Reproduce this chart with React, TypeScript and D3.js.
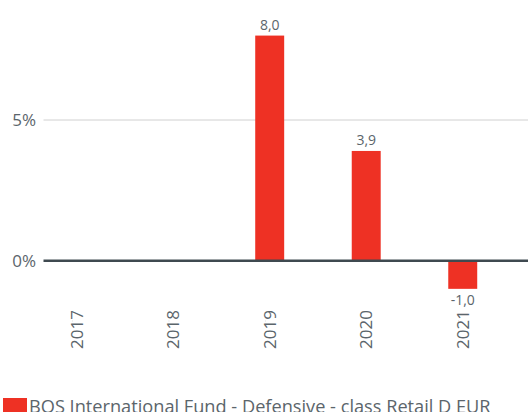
import React from "react";
import * as d3 from "d3";

const years = ["2017", "2018", "2019", "2020", "2021"];
const values: (number | null)[] = [null, null, 8.0, 3.9, -1.0];
const yTicks = [0, 5];
const seriesName = "BOS International Fund - Defensive - class Retail D EUR";

const W = 528;
const H = 412;
const FONT = "'Open Sans', sans-serif";
const TEXT = "#5b656b";
const BAR = "#ee3124";

export default function App() {
  const y = d3.scaleLinear().domain([0, 5]).range([260.7, 120]);
  const x = d3
    .scaleBand<string>()
    .domain(years)
    .range([28.4, 511])
    .paddingInner(0.7)
    .paddingOuter(0.35);
  const step = x.step();
  const fmt = (v: number) => v.toFixed(1).replace(".", ",");

  return (
    <svg
      width={W}
      height={H}
      style={{ position: "absolute", left: 0, top: 0, display: "block" }}
      fontFamily={FONT}
    >
      {yTicks.map((t) => (
        <g key={t}>
          {t !== 0 && (
            <line x1={43.5} x2={W} y1={y(t)} y2={y(t)} stroke="#d0d0d0" strokeWidth={1} />
          )}
          <text x={36} y={y(t)} dy="0.35em" textAnchor="end" fontSize={17} fill={TEXT}>
            {t}%
          </text>
        </g>
      ))}
      {years.map((yr, i) => {
        const v = values[i];
        const bx = x(yr)!;
        const bw = x.bandwidth();
        const cx = bx + bw / 2;
        return (
          <g key={yr}>
            {v !== null && (
              <>
                <rect
                  x={bx}
                  width={bw}
                  y={v >= 0 ? y(v) : y(0)}
                  height={Math.abs(y(v) - y(0))}
                  fill={BAR}
                />
                <text
                  x={cx}
                  y={v >= 0 ? y(v) - 6 : y(v) + 16}
                  textAnchor="middle"
                  fontSize={14}
                  fill={TEXT}
                >
                  {fmt(v)}
                </text>
              </>
            )}
            <rect x={cx + step / 2 - 53} y={320.5} width={1} height={1} fill="#dcdcdc" />
            <text
              transform={`translate(${cx + 6},${310}) rotate(-90)`}
              textAnchor="end"
              fontSize={17}
              fill={TEXT}
            >
              {yr}
            </text>
          </g>
        );
      })}
      <line x1={43.5} x2={W} y1={y(0)} y2={y(0)} stroke="#3f4a50" strokeWidth={2.5} />
      <rect x={3} y={398} width={24} height={20} fill={BAR} />
      <text x={29} y={412.5} fontSize={18.2} fill={TEXT}>
        {seriesName}
      </text>
    </svg>
  );
}
